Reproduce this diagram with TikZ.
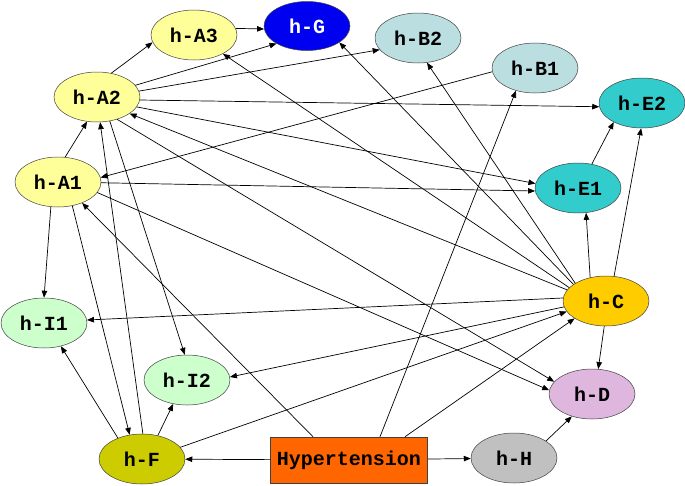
\documentclass[tikz,border=0pt]{standalone}
\usepackage{fontspec}
\setmonofont{Liberation Mono}
\usetikzlibrary{arrows.meta,shapes.geometric}
\definecolor{cA}{RGB}{255,255,153}
\definecolor{cG}{RGB}{0,0,240}
\definecolor{cB}{RGB}{187,222,224}
\definecolor{cE}{RGB}{51,204,204}
\definecolor{cI}{RGB}{204,255,204}
\definecolor{cF}{RGB}{204,204,0}
\definecolor{cHyp}{RGB}{255,102,0}
\definecolor{cH}{RGB}{192,192,192}
\definecolor{cD}{RGB}{222,182,222}
\definecolor{cC}{RGB}{255,204,0}
\begin{document}
\begin{tikzpicture}[x=1pt,y=-1pt,
  lab/.style={font=\fontsize{20}{20}\selectfont\ttfamily\bfseries},
  el/.style={ellipse, draw=black!75, line width=0.5pt, minimum width=86pt, minimum height=50pt, inner sep=0pt, lab},
  box/.style={rectangle, draw=black!75, line width=0.5pt, minimum width=157pt, minimum height=46pt, inner sep=0pt, lab},
  edge/.style={-{Triangle[length=7pt,width=5.5pt]}, line width=0.7pt}]
\useasboundingbox (0,0) rectangle (685,485);
\node[el, fill=cA] (A3) at (194,35) {h-A3};
\node[el, fill=cG, text=white, minimum height=49pt] (G) at (307,26) {h-G};
\node[el, fill=cA] (A2) at (97,97) {h-A2};
\node[el, fill=cA] (A1) at (58,182) {h-A1};
\node[el, fill=cB] (B2) at (418,38) {h-B2};
\node[el, fill=cB] (B1) at (535,68) {h-B1};
\node[el, fill=cE] (E2) at (642,103) {h-E2};
\node[el, fill=cE] (E1) at (578,188) {h-E1};
\node[el, fill=cI] (I1) at (44,323) {h-I1};
\node[el, fill=cI] (I2) at (187,380) {h-I2};
\node[el, fill=cF] (F) at (142,459) {h-F};
\node[box, fill=cHyp] (hyp) at (349,460) {Hypertension};
\node[el, fill=cH] (H) at (514,458) {h-H};
\node[el, fill=cD] (D) at (592,394) {h-D};
\node[el, fill=cC] (C) at (606,301) {h-C};
\coordinate (hA) at ([xshift=-36pt]hyp.north);
\coordinate (hB) at ([xshift=31pt]hyp.north);
\coordinate (hC) at ([xshift=56pt]hyp.north);
% edges
\draw[edge] (A2.59) -- (A3.190);
\draw[edge] (A3.9) -- (G.184);
\draw[edge] (A2.17) -- (G.210);
\draw[edge] (A2.8) -- (B2.197);
\draw[edge] (A2.-4) -- (E2.185);
\draw[edge] (A2.-14) -- (E1.174);
\draw[edge] (A1.-1) -- (E1.184);
\draw[edge] (C.164) -- (A2.-27);
\draw[edge] (C.160) -- (A3.-33);
\draw[edge] (C.153) -- (G.-27);
\draw[edge] (C.150) -- (B2.-70);
\draw[edge] (C.124) -- (E1.-72);
\draw[edge] (C.72) -- (E2.-92);
\draw[edge] (E1.60) -- (E2.214);
\draw[edge] (C.176) -- (I1.4);
\draw[edge] (C.188) -- (I2.4);
\draw[edge] (F.17) -- (C.195);
\draw[edge] (hC) -- (C.209);
\draw[edge] (A1.-15) -- (D.175);
\draw[edge] (A2.-48) -- (D.162);
\draw[edge] (A1.-106) -- (I1.90);
\draw[edge] (A1.-59) -- (F.117);
\draw[edge] (F.88) -- (A2.-83);
\draw[edge] (A2.-62) -- (I2.95);
\draw[edge] (F.139) -- (I1.-54);
\draw[edge] (F.56) -- (I2.-120);
\draw[edge] (hyp) -- (F);
\draw[edge] (hyp) -- (H);
\draw[edge] (H.28) -- (D.228);
\draw[edge] (C.-94) -- (D.76);
\draw[edge] (hB) -- (B1.230);
\draw[edge] (hA) -- (A1.-41);
\draw[edge] (B1.185) -- (A1.6);
\draw[edge] (A1.74) -- (A2.248);
\end{tikzpicture}
\end{document}
